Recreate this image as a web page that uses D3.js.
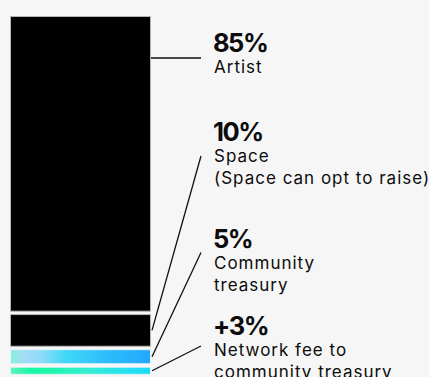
<!DOCTYPE html>
<html>
<head>
<meta charset="utf-8">
<script src="https://cdn.jsdelivr.net/npm/d3@7"></script>
<style>
  html, body { margin: 0; padding: 0; background: #f6f6f6; }
  svg { display: block; }
</style>
</head>
<body>
<svg id="chart" width="429" height="377"></svg>
<script>
// Fee split of a sale, stacked top to bottom
const shareKeys   = ["artist", "space", "community", "network"];
const shareValues = [85, 10, 5, 3];
const shareLabels = ["85%", "10%", "5%", "+3%"];
const shareNames  = [
  ["Artist"],
  ["Space", "(Space can opt to raise)"],
  ["Community", "treasury"],
  ["Network fee to", "community treasury"]
];

// Layout
const W = 429, H = 377;
const labelX = 214;
const leaderEndX = 201;
const pctBaselines = [52, 141, 248, 335];
const leaderEndY = [58, 156, 252.5, 346];
const segGap = 2.4;

const svg = d3.select("#chart");
svg.append("rect").attr("width", W).attr("height", H).attr("fill", "#f6f6f6");

const total = d3.sum(shareValues);
const y = d3.scaleLinear().domain([0, total]).range([16, 377.2]);
const x = d3.scaleBand().domain(["fee"]).range([10, 151]).padding(0);

// stacked extents
let acc = 0;
const segs = shareValues.map((v, i) => {
  const s = { key: shareKeys[i], v, y0: acc, y1: acc + v, i };
  acc += v;
  return s;
});

const defs = svg.append("defs");

function addGradient(id, stops) {
  const g = defs.append("linearGradient").attr("id", id)
    .attr("x1", "0%").attr("x2", "100%").attr("y1", "0%").attr("y2", "0%");
  stops.forEach(([o, c]) => g.append("stop").attr("offset", o).attr("stop-color", c));
}
addGradient("g-community", [
  [0, "#86f0d6"], [0.1, "#a4dcf8"], [0.22, "#8edcf8"], [0.4, "#3ed8f6"],
  [0.7, "#2cbcfc"], [1, "#22a8ff"]
]);
addGradient("g-network", [
  [0, "#5ef2c2"], [0.15, "#16f8a0"], [0.3, "#1ef6ae"], [0.55, "#32eed2"],
  [0.8, "#26e2ee"], [1, "#1cdcf6"]
]);

// fine grain over the colour fills
const grain = defs.append("filter").attr("id", "grain")
  .attr("x", 0).attr("y", 0).attr("width", "100%").attr("height", "100%");
grain.append("feTurbulence").attr("type", "fractalNoise")
  .attr("baseFrequency", 1.2).attr("numOctaves", 2).attr("seed", 3).attr("result", "n");
grain.append("feColorMatrix").attr("in", "n").attr("type", "matrix")
  .attr("values", "0 0 0 0 0.5  0 0 0 0 0.5  0 0 0 0 0.5  0 0 0 0.35 0").attr("result", "nm");
grain.append("feComposite").attr("in", "nm").attr("in2", "SourceGraphic").attr("operator", "in").attr("result", "nc");
grain.append("feBlend").attr("in", "SourceGraphic").attr("in2", "nc").attr("mode", "overlay");

const fills = {
  artist: "#000",
  space: "#000",
  community: "url(#g-community)",
  network: "url(#g-network)"
};
const strokes = {
  artist: "#b4b4b4",
  space: "#b4b4b4",
  community: "#e6f4fa",
  network: "#e6f4fa"
};

svg.append("g").selectAll("rect")
  .data(segs)
  .join("rect")
  .attr("x", x("fee") + 0.5)
  .attr("width", x.bandwidth() - 1)
  .attr("y", d => y(d.y0) + 0.5)
  .attr("height", d => y(d.y1) - y(d.y0) - segGap - 1)
  .attr("fill", d => fills[d.key])
  .attr("stroke", d => strokes[d.key])
  .attr("stroke-width", 1)
  .attr("filter", d => d.key === "community" || d.key === "network" ? "url(#grain)" : null);

// leader lines: the first runs straight out, the rest leave from segment middles
const barRight = x("fee") + x.bandwidth();
svg.append("g").selectAll("line")
  .data(segs)
  .join("line")
  .attr("x1", d => d.i === 0 ? barRight : barRight + 1)
  .attr("y1", d => d.i === 0 ? leaderEndY[0] : (y(d.y0) + y(d.y1) - segGap) / 2)
  .attr("x2", leaderEndX)
  .attr("y2", d => leaderEndY[d.i])
  .attr("stroke", "#111")
  .attr("stroke-width", 1.3);

// labels
const lg = svg.append("g").attr("fill", "#0c0c0c");
segs.forEach(d => {
  const by = pctBaselines[d.i];
  lg.append("text")
    .attr("x", labelX - 1)
    .attr("y", by)
    .attr("font-family", "Inter, 'Noto Sans', sans-serif")
    .attr("font-weight", 700)
    .attr("font-size", 25.5)
    .attr("letter-spacing", -1.5)
    .text(shareLabels[d.i]);
  shareNames[d.i].forEach((line, j) => {
    lg.append("text")
      .attr("x", labelX)
      .attr("y", by + 21 + j * 22)
      .attr("font-family", "Inter, 'Noto Sans', sans-serif")
      .attr("font-weight", 400)
      .attr("font-size", 17)
      .attr("letter-spacing", 1.0)
      .text(line);
  });
});
</script>
</body>
</html>
